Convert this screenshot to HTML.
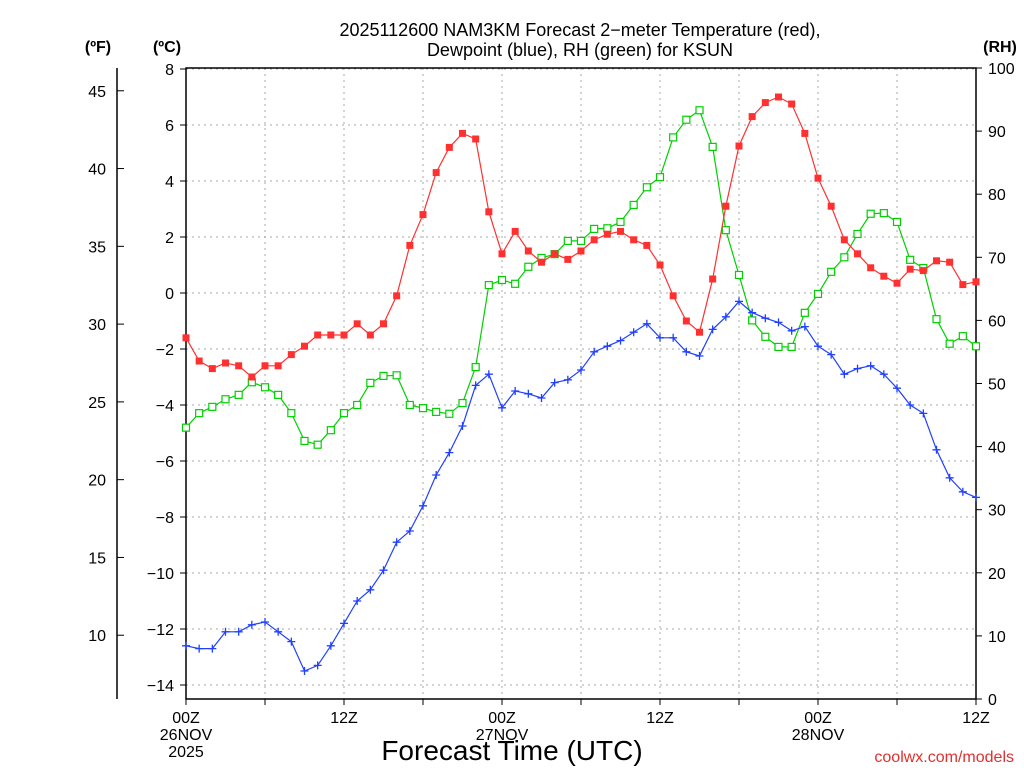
<!DOCTYPE html>
<html><head><meta charset="utf-8"><style>
body{margin:0;background:#fff;}
svg text{font-family:"Liberation Sans",sans-serif;}
</style></head><body>
<svg id="c" width="1024" height="768" xmlns="http://www.w3.org/2000/svg">
<rect width="1024" height="768" fill="#fff"/>
<text x="580" y="36" text-anchor="middle" font-size="18">2025112600 NAM3KM Forecast 2−meter Temperature (red),</text>
<text x="580" y="56" text-anchor="middle" font-size="18">Dewpoint (blue), RH (green) for KSUN</text>
<text x="98" y="52" text-anchor="middle" font-size="16" font-weight="bold">(ºF)</text>
<text x="167" y="52" text-anchor="middle" font-size="16" font-weight="bold">(ºC)</text>
<text x="1000" y="52" text-anchor="middle" font-size="16" font-weight="bold">(RH)</text>
<text x="512" y="760" text-anchor="middle" font-size="28">Forecast Time (UTC)</text>
<text x="1014" y="762" text-anchor="end" font-size="16" fill="#e03030">coolwx.com/models</text>
<g id="g"></g>
</svg>
<script>
const hours=[...Array(61).keys()];
const tempC=[-1.6,-2.43,-2.7,-2.5,-2.6,-3.0,-2.6,-2.6,-2.2,-1.9,-1.5,-1.5,-1.5,-1.1,-1.5,-1.1,-0.1,1.7,2.8,4.3,5.2,5.7,5.5,2.9,1.4,2.2,1.5,1.1,1.4,1.2,1.5,1.9,2.1,2.2,1.9,1.7,1.0,-0.1,-1.0,-1.4,0.5,3.1,5.25,6.3,6.8,7.0,6.75,5.7,4.1,3.1,1.9,1.4,0.9,0.6,0.35,0.85,0.8,1.15,1.1,0.3,0.4];
const dewC=[-12.6,-12.7,-12.7,-12.1,-12.1,-11.85,-11.75,-12.1,-12.45,-13.5,-13.3,-12.6,-11.8,-11.0,-10.6,-9.9,-8.9,-8.5,-7.6,-6.5,-5.7,-4.75,-3.3,-2.9,-4.1,-3.5,-3.6,-3.75,-3.2,-3.1,-2.75,-2.1,-1.9,-1.7,-1.4,-1.1,-1.6,-1.6,-2.1,-2.25,-1.3,-0.85,-0.3,-0.7,-0.9,-1.05,-1.35,-1.2,-1.9,-2.2,-2.9,-2.7,-2.6,-2.9,-3.4,-4.0,-4.3,-5.6,-6.6,-7.1,-7.3];
const rh=[43,45.3,46.3,47.5,48.2,50.2,49.4,48.2,45.3,40.9,40.3,42.6,45.3,46.6,50.1,51.2,51.3,46.6,46.1,45.5,45.2,46.9,52.6,65.6,66.4,65.8,68.5,69.9,70.5,72.6,72.6,74.5,74.6,75.6,78.3,81.1,82.7,89,91.8,93.3,87.5,74.3,67.2,60,57.4,55.8,55.8,61.2,64.2,67.7,70,73.7,76.9,77,75.6,69.6,68.3,60.2,56.3,57.5,55.9];
const cTicks=[8,6,4,2,0,-2,-4,-6,-8,-10,-12,-14];
const fTicks=[45,40,35,30,25,20,15,10];
const rhTicks=[0,10,20,30,40,50,60,70,80,90,100];
const xLabels=[[0,"00Z","26NOV","2025"],[12,"12Z"],[24,"00Z","27NOV"],[36,"12Z"],[48,"00Z","28NOV"],[60,"12Z"]];
const X0=186,X1=976,Y0=68,YB=699;
const xs=h=>X0+(X1-X0)*h/60;
const yc=c=>293-28*c;
const yr=r=>YB-(YB-Y0)*r/100;
const yf=f=>yc((f-32)/1.8);
const g=document.getElementById('g');const NS="http://www.w3.org/2000/svg";
function el(t,a,p){const e=document.createElementNS(NS,t);for(const k in a)e.setAttribute(k,a[k]);(p||g).appendChild(e);return e;}
// grid
for(const c of cTicks){const l=el('line',{x1:X0,x2:X1,y1:yc(c),y2:yc(c),stroke:'#aaa','stroke-dasharray':'2,4'});

}
for(let h=6;h<60;h+=6){const l=el('line',{x1:xs(h),x2:xs(h),y1:Y0,y2:YB,stroke:'#aaa','stroke-dasharray':'2,4'});

}
// frame
const fr=el('rect',{x:X0,y:Y0,width:X1-X0,height:YB-Y0,fill:'none',stroke:'#000','stroke-width':1.5});


const fa=el('line',{x1:117,x2:117,y1:Y0,y2:YB,stroke:'#000','stroke-width':1.5});


for(const c of cTicks){el('line',{x1:X0-6,x2:X0,y1:yc(c),y2:yc(c),stroke:'#000'});
const t=el('text',{x:X0-12,y:yc(c)+6,'text-anchor':'end','font-size':16});t.textContent=c<0?'−'+(-c):c;

}
for(const f of fTicks){el('line',{x1:117,x2:124,y1:yf(f),y2:yf(f),stroke:'#000'});
const t=el('text',{x:106,y:yf(f)+6,'text-anchor':'end','font-size':16});t.textContent=f;

}
for(const r of rhTicks){el('line',{x1:X1,x2:X1+6,y1:yr(r),y2:yr(r),stroke:'#000'});
const t=el('text',{x:X1+12,y:yr(r)+6,'font-size':16});t.textContent=r;

}
for(let h=0;h<=60;h+=6)el('line',{x1:xs(h),x2:xs(h),y1:YB,y2:YB+6,stroke:'#000'});
for(const xl of xLabels){for(let i=1;i<xl.length;i++){const t=el('text',{x:xs(xl[0]),y:YB+24+(i-1)*17,'text-anchor':'middle','font-size':16});t.textContent=xl[i];

}}
function series(vals,yfn,color,name,mark){
const pl=el('polyline',{points:vals.map((v,i)=>xs(hours[i])+','+yfn(v)).join(' '),fill:'none',stroke:color,'stroke-width':1.2});


vals.forEach((v,i)=>{const x=xs(hours[i]),y=yfn(v);let m;
if(mark==='fill')m=el('rect',{x:x-3.5,y:y-3.5,width:7,height:7,fill:color});
else if(mark==='open')m=el('rect',{x:x-3.5,y:y-3.5,width:7,height:7,fill:'#fff',stroke:color,'stroke-width':1.2});
else m=el('path',{d:`M${x-4},${y}H${x+4}M${x},${y-4}V${y+4}`,stroke:color,'stroke-width':1.3});

});}
series(rh,yr,'#00d000','rh','open');
series(dewC,yc,'#2040ff','dewpoint','plus');
series(tempC,yc,'#ff3030','temperature','fill');
</script>
</body></html>
